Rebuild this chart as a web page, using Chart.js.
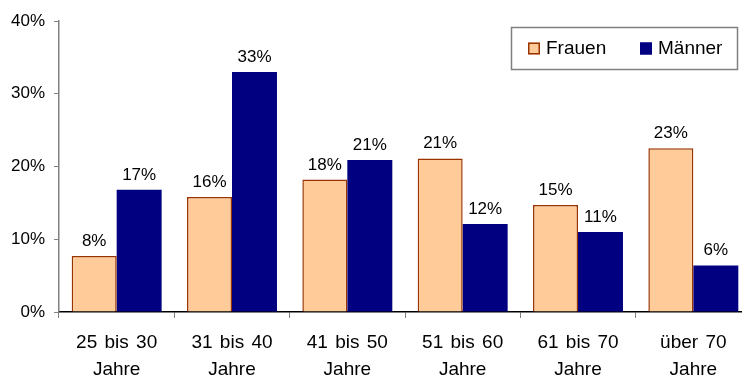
<!DOCTYPE html>
<html>
<head>
<meta charset="utf-8">
<script src="https://cdn.jsdelivr.net/npm/chart.js@4"></script>
<style>
  html, body { margin: 0; padding: 0; background: #fff; overflow: hidden; }
  #wrap { width: 742px; height: 378px; overflow: hidden; position: relative; }
  canvas { display: block; }
</style>
</head>
<body>
<div id="wrap"><canvas id="c" width="752" height="378"></canvas></div>
<script>
const categories = [
  ['25 bis 30', 'Jahre'],
  ['31 bis 40', 'Jahre'],
  ['41 bis 50', 'Jahre'],
  ['51 bis 60', 'Jahre'],
  ['61 bis 70', 'Jahre'],
  ['über 70', 'Jahre']
];
const seriesNames = ['Frauen', 'Männer'];
const frauen = [7.7, 15.8, 18.2, 21.1, 14.7, 22.5];
const maenner = [16.8, 33.0, 20.9, 12.1, 11.0, 6.4];
const yTicks = [0, 10, 20, 30, 40];

const FONT = "'Liberation Sans', Arial, sans-serif";

const valueLabels = {
  id: 'valueLabels',
  afterDatasetsDraw(chart) {
    const ctx = chart.ctx;
    ctx.save();
    ctx.font = '17px ' + FONT;
    ctx.fillStyle = '#000';
    ctx.textAlign = 'center';
    ctx.textBaseline = 'alphabetic';
    chart.data.datasets.forEach((ds, di) => {
      chart.getDatasetMeta(di).data.forEach((bar, i) => {
        ctx.fillText(Math.round(ds.data[i]) + '%', bar.x, bar.y - 10);
      });
    });
    ctx.restore();
  }
};

const spacedXLabels = {
  id: 'spacedXLabels',
  beforeDraw(chart) {
    const sx = chart.scales.x;
    if (sx && !sx._spacedWrap) {
      const orig = sx.drawLabels.bind(sx);
      sx.drawLabels = function (area) {
        const c = this.ctx;
        c.save();
        c.wordSpacing = '2px';
        orig(area);
        c.restore();
      };
      sx._spacedWrap = true;
    }
  }
};

const boxLegend = {
  id: 'boxLegend',
  afterDraw(chart) {
    const ctx = chart.ctx;
    const ca = chart.chartArea;
    const left = ca.right - 240, top = ca.top + 6, w = 226, h = 42;
    ctx.save();
    ctx.strokeStyle = '#808080';
    ctx.lineWidth = 1.5;
    ctx.strokeRect(left + 0.5, top + 0.5, w, h);
    ctx.font = '19px ' + FONT;
    ctx.textBaseline = 'middle';
    ctx.textAlign = 'left';
    const cy = top + h / 2 + 0.5;
    const offsets = [17, 129];
    chart.data.datasets.forEach((ds, i) => {
      const x = left + offsets[i];
      ctx.fillStyle = ds.backgroundColor;
      ctx.fillRect(x, cy - 6, 12, 12);
      ctx.strokeStyle = ds.borderColor;
      ctx.lineWidth = 1.5;
      ctx.strokeRect(x + 0.75, cy - 5.25, 10.5, 10.5);
      ctx.fillStyle = '#000';
      ctx.fillText(ds.label, x + 18, cy);
    });
    ctx.restore();
  }
};

new Chart(document.getElementById('c'), {
  type: 'bar',
  data: {
    labels: categories,
    datasets: [
      {
        label: seriesNames[0],
        data: frauen,
        backgroundColor: '#FFCC99',
        borderColor: '#993300',
        borderWidth: 1.5,
        borderSkipped: 'bottom'
      },
      {
        label: seriesNames[1],
        data: maenner,
        backgroundColor: '#000080',
        borderColor: '#000080',
        borderWidth: 0
      }
    ]
  },
  options: {
    responsive: false,
    animation: false,
    devicePixelRatio: 1,
    layout: { padding: { top: 21, right: 1, left: 0, bottom: 0 } },
    categoryPercentage: 0.78,
    barPercentage: 1.0,
    plugins: {
      legend: { display: false },
      tooltip: { enabled: false }
    },
    scales: {
      x: {
        offset: true,
        grid: {
          display: true,
          offset: true,
          drawOnChartArea: false,
          drawTicks: true,
          tickLength: 6,
          color: '#808080'
        },
        border: { display: true, color: '#000', width: 1.5 },
        ticks: {
          font: { family: FONT, size: 19, lineHeight: 1.42 },
          color: '#000',
          padding: 11,
          maxRotation: 0,
          autoSkip: false
        },
        afterFit(s) { s.height = 66; }
      },
      y: {
        min: 0,
        max: 40,
        afterBuildTicks(s) { s.ticks = yTicks.map(v => ({ value: v })); },
        grid: {
          display: true,
          drawOnChartArea: false,
          drawTicks: true,
          tickLength: 5,
          color: '#808080'
        },
        border: { display: true, color: '#808080', width: 1.5 },
        ticks: {
          font: { family: FONT, size: 17 },
          color: '#000',
          padding: 9,
          callback: v => v + '%'
        },
        afterFit(s) { s.width = 59; }
      }
    }
  },
  plugins: [spacedXLabels, valueLabels, boxLegend]
});
</script>
</body>
</html>
